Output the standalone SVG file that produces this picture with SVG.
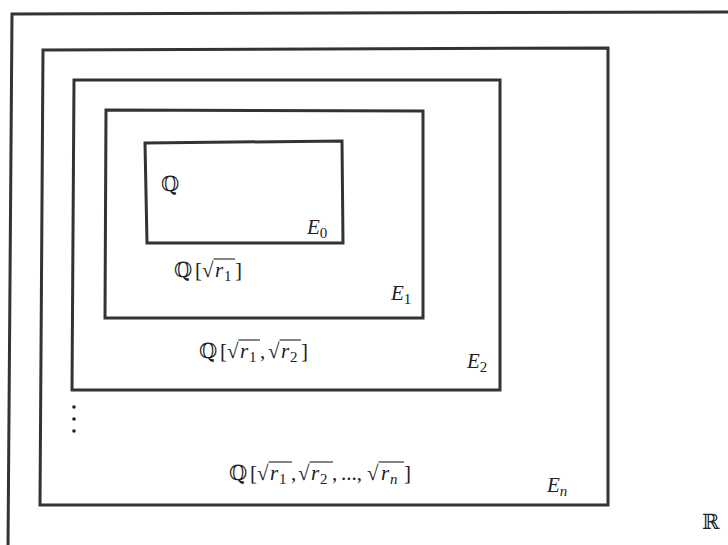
<svg xmlns="http://www.w3.org/2000/svg" width="728" height="545" viewBox="0 0 728 545">
<style>
.box{fill:none;stroke:#333;stroke-width:3;stroke-linejoin:miter}
.m{font-family:"Liberation Serif","DejaVu Serif",serif;font-size:21px;fill:#222}
.i{font-style:italic}
.bb{font-family:"DejaVu Serif","DejaVu Sans",serif;font-size:21px;fill:#222}
.sub{font-family:"Liberation Serif","DejaVu Serif",serif;font-size:15px;font-style:normal;fill:#222}
.si{font-family:"Liberation Serif","DejaVu Serif",serif;font-size:15px;font-style:italic;fill:#222}
.vin{stroke:#222;stroke-width:1.1}
.dot{fill:#222}
</style>
<rect width="728" height="545" fill="#fff"/>
<g id="R">
<path class="box" d="M8 548 L12 14 L730 12"/>
<text class="bb" x="702" y="529">ℝ</text>
</g>
<g id="En">
<path class="box" d="M43 50 L608 48 L608 505 L40 505 Z"/>
<text class="m i" x="547" y="492">E<tspan class="si" dy="4">n</tspan></text>
<text class="bb" x="229" y="480">ℚ</text>
<text class="m" x="250" y="480">[</text>
<text class="m" x="257" y="480">√</text>
<line class="vin" x1="268.5" y1="462" x2="292" y2="462"/>
<text class="m i" x="270" y="480">r</text>
<text class="sub" x="279" y="484">1</text>
<text class="m" x="291" y="480">,</text>
<text class="m" x="298" y="480">√</text>
<line class="vin" x1="309.5" y1="462" x2="333" y2="462"/>
<text class="m i" x="311" y="480">r</text>
<text class="sub" x="320" y="484">2</text>
<text class="m" x="332" y="480">,</text>
<text class="m" x="341" y="480">...,</text>
<text class="m" x="367" y="480">√</text>
<line class="vin" x1="378.5" y1="462" x2="404" y2="462"/>
<text class="m i" x="381" y="480">r</text>
<text class="si" x="390" y="484">n</text>
<text class="m" x="404" y="480">]</text>
<circle class="dot" cx="74" cy="407" r="1.8"/>
<circle class="dot" cx="74" cy="419" r="1.8"/>
<circle class="dot" cx="74" cy="431" r="1.8"/>
</g>
<g id="E2">
<path class="box" d="M74 80 L500 80 L500 390 L72 390 Z"/>
<text class="m i" x="467" y="368">E<tspan class="sub" dy="4">2</tspan></text>
<text class="bb" x="199" y="358">ℚ</text>
<text class="m" x="220" y="358">[</text>
<text class="m" x="227" y="358">√</text>
<line class="vin" x1="238.5" y1="340" x2="260" y2="340"/>
<text class="m i" x="240" y="358">r</text>
<text class="sub" x="249" y="362">1</text>
<text class="m" x="260" y="358">,</text>
<text class="m" x="268" y="358">√</text>
<line class="vin" x1="279.5" y1="340" x2="301" y2="340"/>
<text class="m i" x="281" y="358">r</text>
<text class="sub" x="290" y="362">2</text>
<text class="m" x="301" y="358">]</text>
</g>
<g id="E1">
<path class="box" d="M106 110 L423 111 L423 318 L105 318 Z"/>
<text class="m i" x="391" y="300">E<tspan class="sub" dy="4">1</tspan></text>
<text class="bb" x="174" y="277">ℚ</text>
<text class="m" x="195" y="277">[</text>
<text class="m" x="202" y="277">√</text>
<line class="vin" x1="213.5" y1="259" x2="235" y2="259"/>
<text class="m i" x="215" y="277">r</text>
<text class="sub" x="224" y="281">1</text>
<text class="m" x="235" y="277">]</text>
</g>
<g id="E0">
<path class="box" d="M145 143 L342 141 L343 243 L147 243 Z"/>
<text class="bb" x="161" y="191">ℚ</text>
<text class="m i" x="307" y="234">E<tspan class="sub" dy="4">0</tspan></text>
</g>
<g id="connectors"/>
</svg>
